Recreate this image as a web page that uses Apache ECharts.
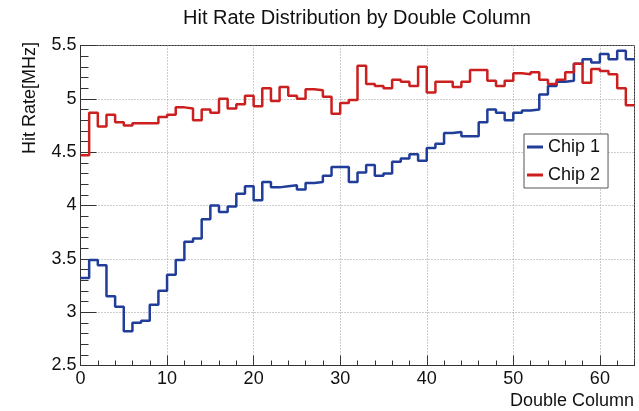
<!DOCTYPE html>
<html>
<head>
<meta charset="utf-8">
<script src="https://cdn.jsdelivr.net/npm/echarts@6/dist/echarts.min.js"></script>
<style>
  html, body { margin: 0; padding: 0; background: #fff; }
  #main { width: 639px; height: 411px; }
</style>
</head>
<body>
<div id="main"></div>
<script>
// hit rate per double column [MHz], one value per bin (0..63)
var chip1 = [
  3.32, 3.49, 3.44, 3.15, 3.05, 2.82, 2.90, 2.92, 3.07, 3.20,
  3.35, 3.49, 3.66, 3.69, 3.87, 4.00, 3.94, 3.99, 4.11, 4.18,
  4.05, 4.22, 4.17, 4.18, 4.19, 4.15, 4.21, 4.22, 4.28, 4.36,
  4.36, 4.22, 4.31, 4.38, 4.28, 4.30, 4.41, 4.44, 4.48, 4.42,
  4.54, 4.58, 4.68, 4.69, 4.65, 4.65, 4.78, 4.90, 4.87, 4.80,
  4.87, 4.89, 4.90, 5.04, 5.12, 5.16, 5.17, 5.33, 5.37, 5.34,
  5.42, 5.37, 5.45, 5.37
];
var chip2 = [
  4.47, 4.87, 4.74, 4.85, 4.78, 4.75, 4.77, 4.77, 4.77, 4.83,
  4.85, 4.92, 4.91, 4.80, 4.90, 4.87, 5.00, 4.91, 4.95, 5.03,
  4.93, 5.10, 4.98, 5.11, 5.03, 5.00, 5.09, 5.08, 5.02, 4.86,
  4.96, 4.99, 5.31, 5.14, 5.12, 5.10, 5.18, 5.16, 5.12, 5.30,
  5.06, 5.16, 5.16, 5.11, 5.16, 5.27, 5.27, 5.17, 5.12, 5.17,
  5.24, 5.23, 5.25, 5.18, 5.14, 5.18, 5.25, 5.33, 5.15, 5.28,
  5.26, 5.23, 5.10, 4.94
];
var seriesNames = ['Chip 1', 'Chip 2'];
var xTicks = [0, 10, 20, 30, 40, 50, 60];
var yTicks = [2.5, 3, 3.5, 4, 4.5, 5, 5.5];

var FONT = '"Liberation Sans", Arial, Helvetica, sans-serif';

// histogram outline: one point per bin lower edge + closing point at last upper edge
function toSteps(vals) {
  var pts = vals.map(function (v, i) { return [i, v]; });
  pts.push([vals.length, vals[vals.length - 1]]);
  return pts;
}

var myChart = echarts.init(document.getElementById('main'), null, { renderer: 'canvas' });

var gridLine = { show: true, lineStyle: { color: '#9a9a9a', type: [1, 2], width: 1 } };

var option = {
  animation: false,
  backgroundColor: '#fff',
  textStyle: { fontFamily: FONT },
  grid: {
    left: 80.5, right: 4.5, top: 45.5, bottom: 45.5,
    show: true, borderColor: '#333', borderWidth: 1, backgroundColor: 'transparent'
  },
  graphic: [
    {
      type: 'text', x: 357, y: 18,
      style: { text: 'Hit Rate Distribution by Double Column', font: '20px ' + FONT,
               fill: '#111', textAlign: 'center', textVerticalAlign: 'middle' }
    },
    {
      type: 'text', x: 30, y: 42, rotation: Math.PI / 2,
      style: { text: 'Hit Rate[MHz]', font: '18px ' + FONT,
               fill: '#111', textAlign: 'right', textVerticalAlign: 'middle' }
    },
    {
      type: 'text', x: 634, y: 401,
      style: { text: 'Double Column', font: '18px ' + FONT,
               fill: '#111', textAlign: 'right', textVerticalAlign: 'middle' }
    }
  ],
  legend: {
    orient: 'vertical',
    left: 524, top: 134,
    padding: [4, 8, 4, 3],
    itemGap: 10,
    itemWidth: 16, itemHeight: 3,
    icon: 'rect',
    backgroundColor: '#fff',
    borderColor: '#555', borderWidth: 1,
    textStyle: { fontSize: 18, color: '#111', fontFamily: FONT },
    data: seriesNames
  },
  xAxis: [
    {
      type: 'value', min: 0, max: 64, interval: 10,
      axisLine: { show: true, onZero: false, lineStyle: { color: '#333', width: 1 } },
      axisTick: { show: true, inside: true, length: 10, lineStyle: { color: '#333' } },
      axisLabel: {
        margin: 5, fontSize: 18, color: '#111', showMaxLabel: false,
        formatter: function (v) { return xTicks.indexOf(v) >= 0 ? String(v) : ''; }
      },
      splitLine: gridLine
    },
    {
      // minor ticks every 2 columns
      type: 'value', min: 0, max: 64, interval: 2, position: 'bottom',
      axisLine: { show: false },
      axisTick: { show: true, inside: true, length: 5, lineStyle: { color: '#333' } },
      axisLabel: { show: false },
      splitLine: { show: false }
    }
  ],
  yAxis: {
    type: 'value', min: yTicks[0], max: yTicks[yTicks.length - 1], interval: 0.5,
    axisLine: { show: true, onZero: false, lineStyle: { color: '#333', width: 1 } },
    axisTick: { show: true, inside: true, length: 16, lineStyle: { color: '#333' } },
    minorTick: { show: true, splitNumber: 5, length: 8, lineStyle: { color: '#333' } },
    axisLabel: { margin: 4, fontSize: 18, color: '#111' },
    splitLine: gridLine
  },
  series: [
    {
      name: seriesNames[0], type: 'line', step: 'end', symbol: 'none',
      xAxisIndex: 0,
      itemStyle: { color: '#1f3d99' },
      lineStyle: { color: '#1f3d99', width: 2.5 },
      data: toSteps(chip1)
    },
    {
      name: seriesNames[1], type: 'line', step: 'end', symbol: 'none',
      xAxisIndex: 0,
      itemStyle: { color: '#cc1f1f' },
      lineStyle: { color: '#cc1f1f', width: 2.5 },
      data: toSteps(chip2)
    }
  ]
};
myChart.setOption(option);
</script>
</body>
</html>
